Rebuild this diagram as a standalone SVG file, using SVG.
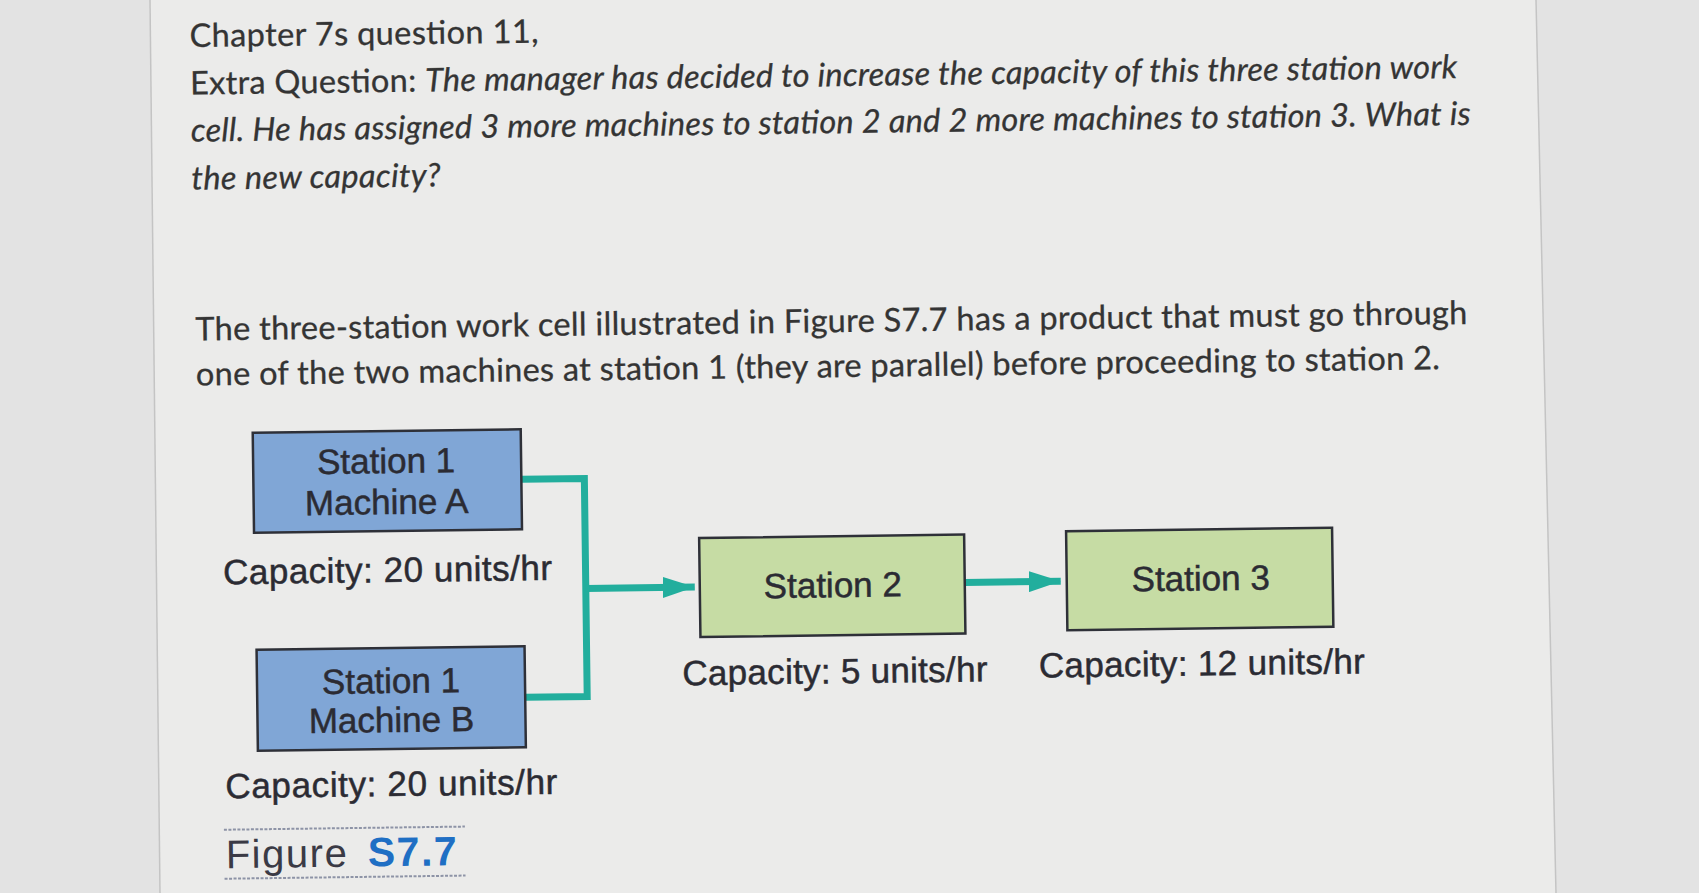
<svg xmlns="http://www.w3.org/2000/svg" width="1699" height="893" viewBox="0 0 1699 893">
<defs>
<marker id="ah" markerUnits="userSpaceOnUse" markerWidth="32" markerHeight="21" refX="32" refY="10.5" orient="auto"><path d="M0,0 L32,10.5 L0,21 Z" fill="#22ae9d"/></marker>
</defs>
<style>
.q{font-family:Lato,"Open Sans",sans-serif;font-size:32.5px;fill:#343434;stroke:#343434;stroke-width:0.3}
.i{font-style:italic}
.box{stroke:#2e3038;stroke-width:2.5}
.blue{fill:#80a6d6}
.green{fill:#c6dca4}
.lbl{font-family:"Liberation Sans",Arial,sans-serif;font-size:35px;fill:#2b2b33;stroke:#2b2b33;stroke-width:0.5;text-anchor:middle}
.conn{fill:none;stroke:#22ae9d;stroke-width:7}
.dots{stroke:#8d93a6;stroke-width:2;stroke-dasharray:3 1.5}
.edge{stroke:#c4c4c4;stroke-width:1.5;fill:none}
</style>
<rect x="0" y="0" width="1699" height="893" fill="#e3e3e3"/>
<polygon points="150,0 1536,0 1556,893 160,893" fill="#ebebea"/>
<line class="edge" x1="150" y1="0" x2="160" y2="893"/>
<line class="edge" x1="1536" y1="0" x2="1556" y2="893"/>
<g transform="rotate(-0.75 850 450)">
<g id="question">
<text class="q" x="195" y="38.5" textLength="349" lengthAdjust="spacing">Chapter 7s question 11,</text>
<text class="q" x="195" y="86" textLength="1267" lengthAdjust="spacing">Extra Question: <tspan class="i">The manager has decided to increase the capacity of this three station work</tspan></text>
<text class="q i" x="195" y="133" textLength="1280" lengthAdjust="spacing">cell. He has assigned 3 more machines to station 2 and 2 more machines to station 3. What is</text>
<text class="q i" x="195" y="181" textLength="249" lengthAdjust="spacing">the new capacity?</text>
<text class="q" x="197" y="332" textLength="1272" lengthAdjust="spacing">The three-station work cell illustrated in Figure S7.7 has a product that must go through</text>
<text class="q" x="197" y="377" textLength="1244" lengthAdjust="spacing">one of the two machines at station 1 (they are parallel) before proceeding to station 2.</text>
</g>
<g id="connectors">
<path class="conn" d="M521,475 H584 V693 H522"/>
<line class="conn" x1="584" y1="585" x2="693" y2="585" marker-end="url(#ah)"/>
<line class="conn" x1="963" y1="584" x2="1059" y2="584" marker-end="url(#ah)"/>
</g>
<g id="node-station1-machineA">
<rect class="box blue" x="253" y="425" width="268" height="100"/>
<text class="lbl" x="386" y="467">Station 1</text>
<text class="lbl" x="386" y="508">Machine A</text>
<text class="lbl" x="386" y="576" textLength="329" lengthAdjust="spacing">Capacity: 20 units/hr</text>
</g>
<g id="node-station1-machineB">
<rect class="box blue" x="254" y="642" width="268" height="101"/>
<text class="lbl" x="388" y="687">Station 1</text>
<text class="lbl" x="388" y="726">Machine B</text>
<text class="lbl" x="387" y="790" textLength="332" lengthAdjust="spacing">Capacity: 20 units/hr</text>
</g>
<g id="node-station2">
<rect class="box green" x="698" y="536" width="265" height="99"/>
<text class="lbl" x="831" y="597">Station 2</text>
<text class="lbl" x="832" y="683" textLength="305" lengthAdjust="spacing">Capacity: 5 units/hr</text>
</g>
<g id="node-station3">
<rect class="box green" x="1065" y="534" width="266" height="99"/>
<text class="lbl" x="1199" y="595">Station 3</text>
<text class="lbl" x="1199" y="680" textLength="326" lengthAdjust="spacing">Capacity: 12 units/hr</text>
</g>
<g id="caption">
<line class="dots" x1="219" y1="821.5" x2="460" y2="821.5"/>
<text x="220.5" y="860" font-family="Liberation Sans, Arial, sans-serif" font-size="40" fill="#3a3a45" textLength="121" lengthAdjust="spacing">Figure</text>
<text x="362.5" y="860" font-family="Liberation Sans, Arial, sans-serif" font-size="41" font-weight="bold" fill="#1f6fc4" textLength="89" lengthAdjust="spacing">S7.7</text>
<line class="dots" x1="219" y1="870.5" x2="460" y2="870.5"/>
</g>
</g>
</svg>
